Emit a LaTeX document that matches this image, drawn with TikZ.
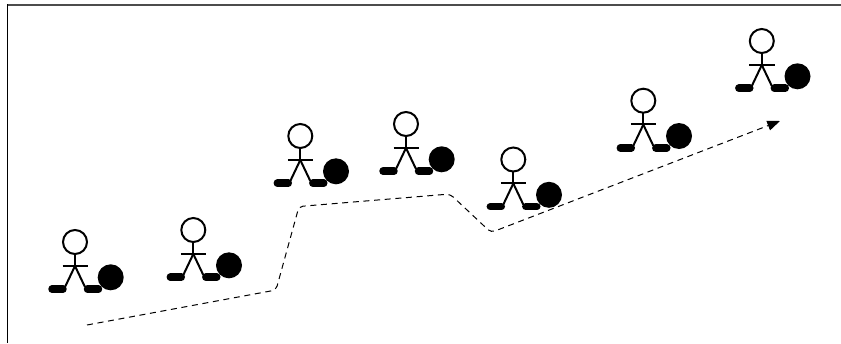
\documentclass[tikz,border=0pt]{standalone}
\usetikzlibrary{arrows.meta}
\tikzset{
  limb/.style={line width=1.5pt,black},
  foot/.style={line width=5.6pt,black,line cap=round},
  route/.style={line width=0.75pt,rounded corners=3pt,dash pattern=on 4.5pt off 3.5pt,-{Triangle[length=9.5pt,width=7.5pt]}},
  stickfig/.pic={
    \draw[limb,fill=white] (0,0) circle (12);
    \draw[limb] (0,12) -- (0,24);
    \draw[limb] (-12.5,23.5) -- (13,23.5);
    \draw[limb] (0,24) -- (-10,45);
    \draw[limb] (0,24) -- (10,45);
    \draw[foot] (-23,47.2) -- (-12,47.2);
    \draw[foot] (12.5,47.2) -- (23.5,47.2);
    \fill (35.7,35.3) circle (13);
  }
}
\begin{document}
\begin{tikzpicture}[x=0.75pt,y=-0.75pt]
\useasboundingbox (0,0) rectangle (841,343);
\fill[white] (0,0) rectangle (841,343);
\draw[line width=1.5pt,black!70] (7,5) -- (841,5);
\draw[line width=1.1pt,black] (7.7,4) -- (7.7,343);
\pic at (75,242) {stickfig};
\pic at (193.3,230) {stickfig};
\pic at (300.3,136) {stickfig};
\pic at (406,124) {stickfig};
\pic at (513.3,159.5) {stickfig};
\pic at (643.3,100.7) {stickfig};
\pic at (761.8,41) {stickfig};
\coordinate (r0) at (87,325);
\coordinate (r1) at (276,290);
\coordinate (r2) at (299,206.5);
\coordinate (r3) at (450,194);
\coordinate (r4) at (491,232.5);
\coordinate (r6) at (780,121);
\draw[route] (r0) -- (r1) -- (r2) -- (r3) -- (r4) -- (r6);
\end{tikzpicture}
\end{document}
